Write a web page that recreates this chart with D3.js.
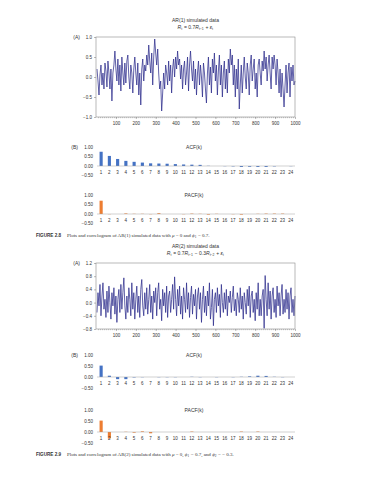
<!DOCTYPE html>
<html lang="en">
<head>
<meta charset="utf-8">
<title>AR(1) and AR(2) simulated data</title>
<script src="https://d3js.org/d3.v7.min.js"></script>
<style>
 body { margin: 0; background: #fff; }
 svg text { font-family: "Liberation Sans", Arial, sans-serif; fill: #333; }
 .cap { font-family: "Liberation Serif", "Times New Roman", serif; }
</style>
</head>
<body>
<script>
// AR(1) series, one value read every 5 periods
const ar1Values = [
 0.2, -0.1, -0.45, 0.05, 0.3, -0.2, 0.1, -0.3, 0.35, 0.15,
 -0.25, 0.4, 0.1, -0.3, 0.2, -0.6, 0.1, 0.3, 0.65, 0.2,
 -0.1, 0.45, -0.2, 0.3, -0.35, 0.5, 0.1, -0.2, 0.35, -0.15,
 0.4, 0.55, 0.0, -0.3, 0.3, 0.1, -0.4, 0.2, 0.5, 0.1,
 -0.2, 0.35, -0.45, 0.1, -0.7, 0.2, 0.45, -0.1, 0.3, 0.15,
 0.55, 0.3, 0.8, 0.4, 0.1, 0.6, -0.2, 0.5, 0.95, 0.6,
 0.3, 0.7, 0.1, -0.3, -0.1, -0.85, -0.4, 0.1, -0.3, 0.3,
 0.1, -0.2, 0.4, -0.1, 0.3, -0.4, 0.2, 0.45, 0.0, 0.5,
 0.2, 0.65, 0.3, 0.45, -0.05, 0.3, -0.3, 0.2, 0.4, -0.2,
 0.1, 0.5, -0.35, 0.3, 0.65, 0.2, -0.1, 0.4, -0.3, 0.2,
 -0.45, 0.1, 0.4, -0.2, 0.3, 0.0, -0.5, 0.35, 0.1, -0.3,
 -0.65, 0.1, 0.5, -0.2, 0.25, -0.4, 0.45, 0.1, 0.6, -0.1,
 0.3, -0.45, 0.15, 0.55, -0.2, 0.3, -0.5, 0.1, 0.4, -0.3,
 0.2, -0.4, 0.45, 0.1, 0.7, 0.3, 0.55, -0.2, 0.3, -0.5,
 0.2, -0.3, 0.45, -0.8, -0.2, 0.3, -0.4, 0.1, 0.5, 0.0,
 -0.3, 0.35, 0.1, -0.45, 0.3, 0.55, -0.1, 0.2, 0.45, -0.3,
 0.1, -0.5, 0.3, 0.45, 0.1, -0.2, 0.4, 0.15, 0.65, 0.2,
 0.5, -0.1, 0.3, 0.55, 0.1, -0.3, 0.5, 0.2, 0.55, 0.3,
 -0.2, 0.45, 0.1, -0.4, 0.2, -0.5, 0.1, -0.3, -0.75, -0.2,
 0.3, -0.4, 0.1, 0.35, -0.5, 0.25, -0.1, 0.3, -0.2, -0.1
];

// AR(2) series, one value read every 5 periods
const ar2Values = [
 -0.3, 0.3, -0.1, 0.55, -0.4, 0.2, 0.6, -0.2, 0.1, -0.45,
 0.35, -0.3, 0.5, 0.0, -0.5, 0.3, -0.1, 0.45, -0.35, 0.2,
 -0.6, 0.1, 0.4, -0.3, 0.55, -0.2, 0.3, 0.75, -0.1, -0.5,
 0.2, -0.3, 0.45, 0.1, -0.4, 0.6, -0.2, 0.3, -0.5, 0.1,
 0.5, -0.3, 0.2, -0.45, 0.4, 0.7, -0.1, -0.4, 0.3, -0.2,
 0.45, -0.35, 0.1, 0.55, -0.3, 0.2, -0.5, 0.35, 0.0, 0.45,
 -0.4, 0.3, 0.6, -0.2, 0.1, -0.55, 0.4, -0.1, 0.3, -0.3,
 0.5, -0.45, 0.2, 0.35, -0.3, 0.1, 0.55, -0.2, 0.78, 0.1,
 -0.4, 0.4, -0.1, 0.5, -0.35, 0.2, -0.5, 0.45, 0.1, -0.3,
 0.6, -0.2, 0.3, -0.45, 0.15, 0.5, -0.35, 0.25, -0.1, 0.4,
 -0.5, 0.2, 0.45, -0.2, 0.3, -0.6, 0.1, 0.5, -0.3, 0.2,
 -0.4, 0.35, -0.1, 0.6, -0.5, -0.15, 0.4, -0.7, 0.1, 0.3,
 -0.3, 0.45, -0.1, 0.25, -0.45, 0.55, 0.0, -0.3, 0.3, -0.2,
 0.4, -0.4, 0.2, 0.0, 0.35, -0.3, 0.15, 0.5, -0.25, 0.1,
 -0.4, 0.3, 0.1, -0.3, 0.45, -0.2, 0.2, -0.5, 0.3, 0.0,
 -0.35, 0.4, -0.1, 0.5, -0.45, 0.2, 0.35, -0.3, 0.1, -0.55,
 0.3, -0.2, 0.6, -0.4, 0.1, -0.4, 0.2, 0.4, -0.78, 0.82,
 0.1, -0.4, 0.6, -0.2, 0.35, -0.5, 0.2, 0.45, -0.3, 0.1,
 -0.45, 0.5, -0.1, 0.3, -0.4, 0.2, 0.55, -0.35, 0.1, -0.3,
 0.4, -0.2, 0.3, -0.5, 0.2, 0.45, -0.3, 0.1, -0.4, 0.2
];
const seriesStep = 5;

const lags = d3.range(1, 25);
const acf1 = [0.75, 0.53, 0.37, 0.27, 0.22, 0.18, 0.14, 0.13, 0.12, 0.10, 0.08, 0.07,
              0.06, 0.01, 0.00, -0.01, -0.02, -0.05, -0.04, -0.05, -0.05, -0.02, 0.00, -0.01];
const pacf1 = [0.70, -0.01, 0.00, 0.03, 0.01, 0.01, -0.01, 0.04, 0.00, 0.00, -0.01, 0.02,
               0.01, -0.03, 0.01, 0.00, -0.01, -0.03, 0.00, 0.01, 0.02, 0.02, 0.02, 0.00];
const acf2 = [0.53, 0.06, -0.10, -0.10, -0.02, -0.01, 0.00, -0.01, -0.01, -0.01, 0.00, 0.01,
              -0.01, 0.00, -0.01, 0.00, -0.01, 0.01, 0.03, 0.06, 0.05, 0.01, -0.01, 0.00];
const pacf2 = [0.53, -0.30, 0.00, 0.01, -0.03, 0.03, -0.06, 0.00, 0.00, 0.00, 0.00, 0.02,
               0.00, 0.00, 0.00, 0.00, 0.00, 0.02, 0.00, 0.02, 0.00, 0.00, 0.00, 0.00];

const timeTicks = [100, 200, 300, 400, 500, 600, 700, 800, 900, 1000];
const ar1Ticks = [-1, -0.5, 0, 0.5, 1];
const ar2Ticks = [-0.8, -0.4, 0, 0.4, 0.8, 1.2];
const corrTicks = [-0.5, 0, 0.5, 1];

const W = 375, H = 480;
const left = 96, right = 295;
const lineColor = '#2e2e8c';
const acfColor = '#4472c4';
const pacfColor = '#ed7d31';

const svg = d3.select('body').append('svg')
  .attr('width', W)
  .attr('height', H);

// equation with italic letters and subscripts: parts = [[text, sub, italic], ...]
function equation(x, y, parts) {
  const t = svg.append('text')
    .attr('x', x).attr('y', y)
    .attr('text-anchor', 'middle')
    .style('font-size', '5px');
  parts.forEach(p => {
    t.append('tspan').attr('font-style', p[2] ? 'italic' : null).text(p[0]);
    if (p[1]) {
      t.append('tspan').attr('dy', 1.2).style('font-size', '3.4px').text(p[1]);
      t.append('tspan').attr('dy', -1.2).text('\u200a');
    }
  });
}

function seriesPanel(values, ticks, domain, top, bottom, title, eqParts, fmt) {
  const x = d3.scaleLinear().domain([0, 1000]).range([left, right]);
  const y = d3.scaleLinear().domain(domain).range([bottom, top]);
  const cx = (left + right) / 2;

  svg.append('text').attr('x', cx).attr('y', top - 15)
    .attr('text-anchor', 'middle').style('font-size', '5px').text(title);
  equation(cx, top - 8, eqParts);

  svg.append('text').attr('x', 80).attr('y', top + 1.7)
    .attr('text-anchor', 'end').style('font-size', '5px').text('(A)');

  const line = d3.line()
    .x((d, i) => x((i + 1) * seriesStep))
    .y(d => y(d));
  svg.append('path').datum(values)
    .attr('d', line)
    .attr('fill', 'none')
    .attr('stroke', lineColor)
    .attr('stroke-width', 0.75)
    .attr('stroke-linejoin', 'round');

  svg.append('rect')
    .attr('x', left).attr('y', top)
    .attr('width', right - left).attr('height', bottom - top)
    .attr('fill', 'none').attr('stroke', '#8a8a8a').attr('stroke-width', 0.6);

  // y axis
  const ya = svg.append('g').attr('transform', 'translate(' + left + ',0)')
    .call(d3.axisLeft(y).tickValues(ticks).tickSize(2).tickPadding(2).tickFormat(fmt));
  ya.select('.domain').remove();
  ya.selectAll('line').attr('stroke', '#777').attr('stroke-width', 0.5);
  ya.selectAll('text').style('font-size', '4.5px').attr('fill', '#444');

  // x axis: minor ticks every 10 periods and labels every 100
  const xm = svg.append('g').attr('transform', 'translate(0,' + bottom + ')')
    .call(d3.axisBottom(x).tickValues(d3.range(10, 1000, 10)).tickSize(1.2).tickFormat(''));
  xm.select('.domain').remove();
  xm.selectAll('line').attr('stroke', '#777').attr('stroke-width', 0.4);
  const xa = svg.append('g').attr('transform', 'translate(0,' + bottom + ')')
    .call(d3.axisBottom(x).tickValues(timeTicks).tickSize(2).tickPadding(2.5).tickFormat(d3.format('d')));
  xa.select('.domain').remove();
  xa.selectAll('line').attr('stroke', '#777').attr('stroke-width', 0.5);
  xa.selectAll('text').style('font-size', '4.5px').attr('fill', '#444');
}

function correlogram(values, color, yOne, yZero, title, label) {
  const x = d3.scaleBand().domain(lags).range([97, 295]).paddingInner(0.62).paddingOuter(0.31);
  const y = d3.scaleLinear().domain([0, 1]).range([yZero, yOne]);
  const yAxis = d3.scaleLinear().domain([-0.5, 1]).range([y(-0.5), yOne]);

  svg.append('text').attr('x', 194).attr('y', yOne + 1.7)
    .attr('text-anchor', 'middle').style('font-size', '5px').text(title);
  if (label) {
    svg.append('text').attr('x', 78).attr('y', yOne + 1.7)
      .attr('text-anchor', 'end').style('font-size', '5px').text(label);
  }

  const ya = svg.append('g').attr('transform', 'translate(95,0)')
    .call(d3.axisLeft(yAxis).tickValues(corrTicks).tickSize(0).tickPadding(2).tickFormat(d3.format('.2f')));
  ya.select('.domain').remove();
  ya.selectAll('text').style('font-size', '4.5px').attr('fill', '#444')
    .text(d => d3.format('.2f')(d).replace('-', '\u2212'));

  svg.append('g').selectAll('rect')
    .data(values)
    .enter()
    .append('rect')
    .attr('x', (d, i) => x(lags[i]))
    .attr('y', d => Math.min(y(d), yZero))
    .attr('width', x.bandwidth())
    .attr('height', d => Math.abs(y(d) - yZero))
    .attr('fill', color);

  svg.append('line')
    .attr('x1', 97).attr('x2', 295)
    .attr('y1', yZero).attr('y2', yZero)
    .attr('stroke', '#a0a0a0').attr('stroke-width', 0.5);

  svg.append('g').selectAll('text')
    .data(lags)
    .enter()
    .append('text')
    .attr('x', d => x(d) + x.bandwidth() / 2)
    .attr('y', yZero + 8)
    .attr('text-anchor', 'middle')
    .style('font-size', '4.5px')
    .attr('fill', '#444')
    .text(d => d);
}

function caption(y, number, parts) {
  const t = svg.append('text').attr('x', 36).attr('y', y).attr('class', 'cap').style('font-size', '5px');
  t.append('tspan').attr('font-weight', 'bold')
    .style('font-family', '"Liberation Sans", Arial, sans-serif').style('font-size', '4.6px').text(number);
  parts.forEach((p, i) => {
    let s;
    if (p[1] === 'sub') {
      t.append('tspan').attr('dy', 1).style('font-size', '3.4px').text(p[0]);
      s = t.append('tspan').attr('dy', -1).text('\u200a');
    } else {
      s = t.append('tspan').attr('font-style', p[1] === 'i' ? 'italic' : null).text(p[0]);
    }
    if (i === 0) s.attr('dx', 6);
  });
}

// Figure 2.8
seriesPanel(ar1Values, ar1Ticks, [-1, 1], 37, 117, 'AR(1) simulated data',
  [['R', 't', true], [' = 0.7'], ['R', 't\u22121', true], [' + '], ['\u03b5', 't', true]],
  d3.format('.1f'));
correlogram(acf1, acfColor, 147, 166, 'ACF(k)', '(B)');
correlogram(pacf1, pacfColor, 195, 214, 'PACF(k)', null);
caption(236.5, 'FIGURE 2.8', [
  ['Plots and correlogram of AR(1) simulated data with '], ['\u03bc', 'i'], [' = 0 and '],
  ['\u03d5', 'i'], ['1', 'sub'], [' = 0.7.']
]);

// Figure 2.9
seriesPanel(ar2Values, ar2Ticks, [-0.8, 1.2], 263, 329, 'AR(2) simulated data',
  [['R', 't', true], [' = 0.7'], ['R', 't\u22121', true], [' \u2212 0.3'], ['R', 't\u22122', true], [' + '], ['\u03b5', 't', true]],
  d3.format('.1f'));
correlogram(acf2, acfColor, 355.5, 377, 'ACF(k)', '(B)');
correlogram(pacf2, pacfColor, 410.5, 432, 'PACF(k)', null);
caption(455.5, 'FIGURE 2.9', [
  ['Plots and correlogram of AR(2) simulated data with '], ['\u03bc', 'i'], [' = 0, '],
  ['\u03d5', 'i'], ['1', 'sub'], [' = 0.7, and '], ['\u03d5', 'i'], ['2', 'sub'], [' = \u2212 0.3.']
]);
</script>
</body>
</html>
